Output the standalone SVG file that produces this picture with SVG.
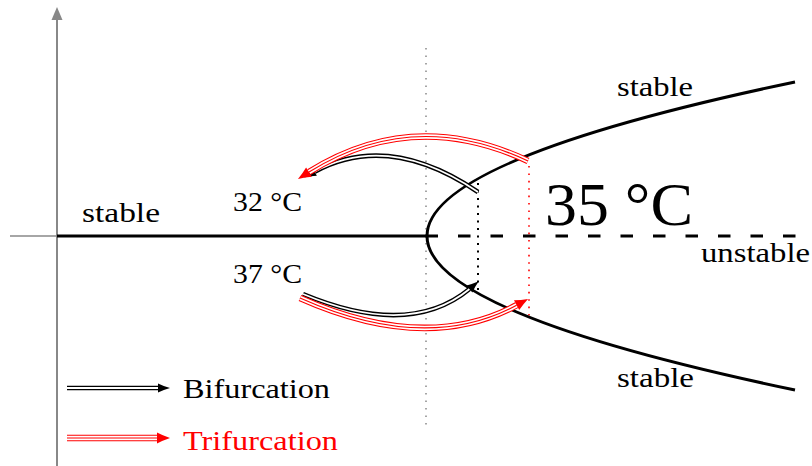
<svg xmlns="http://www.w3.org/2000/svg" width="812" height="466" viewBox="0 0 812 466">
<style>
text{font-family:"Liberation Serif","DejaVu Serif",serif;font-size:28px;fill:#000}
.red{fill:#ff0000}
.axis{stroke:#888;fill:none}
.thick{stroke:#000;stroke-width:3;fill:none}
.bo{stroke:#000;stroke-width:4.6;fill:none}
.bi{stroke:#fff;stroke-width:1.8;fill:none}
.ro{stroke:#ff0000;stroke-width:6.6;fill:none}
.ri{stroke:#fff;stroke-width:4.4;fill:none}
.rc{stroke:#ff0000;stroke-width:1.2;fill:none}
.bm{stroke:none;fill:none;marker-end:url(#ab)}
.rm{stroke:none;fill:none;marker-end:url(#ar)}
</style>
<defs>
<marker id="ab" markerUnits="userSpaceOnUse" markerWidth="20" markerHeight="20" refX="0" refY="0" viewBox="-2 -10 20 20" orient="auto" overflow="visible">
<path d="M0,-4.5 Q5,-2 12,0 Q5,2 0,4.5 z" fill="#000"/>
</marker>
<marker id="ar" markerUnits="userSpaceOnUse" markerWidth="20" markerHeight="20" refX="0" refY="0" viewBox="-2 -10 20 20" orient="auto" overflow="visible">
<path d="M0,-5.5 Q6,-2.4 13,0 Q6,2.4 0,5.5 z" fill="#ff0000"/>
</marker>
</defs>
<g id="axes">
<line class="axis" x1="57" y1="466" x2="57" y2="19" stroke-width="2"/>
<path d="M57,7 L62.5,20 L51.5,20 z" fill="#888"/>
<line class="axis" x1="10" y1="236" x2="57" y2="236" stroke-width="1.6"/>
</g>
<g id="guides">
<line x1="426" y1="48" x2="426" y2="430" stroke="#888" stroke-width="1.5" stroke-dasharray="1.5 6" stroke-linecap="butt"/>
<line x1="478" y1="183" x2="478" y2="292" stroke="#000" stroke-width="2" stroke-dasharray="2 5.5"/>
<line x1="529" y1="166" x2="529" y2="316" stroke="#ff0000" stroke-width="1.6" stroke-dasharray="1.6 5.8"/>
</g>
<g id="branches">
<line class="thick" x1="57" y1="236" x2="427" y2="236"/>
<line x1="425.5" y1="236" x2="800" y2="236" stroke="#000" stroke-width="3" stroke-dasharray="12.5 20"/>
<path class="thick" d="M795,82 Q59,236 795,390"/>
</g>
<g id="connectors">
<path class="bo" d="M478,192 Q388.5,131.5 314.7,171.7"/>
<path class="bi" d="M478,192 Q388.5,131.5 314.7,171.7"/>
<path class="bm" d="M478,192 Q388.5,131.5 314.7,171.7"/>
<path class="ro" d="M528,161 Q413,107 309,172.1"/>
<path class="ri" d="M528,161 Q413,107 309,172.1"/>
<path class="rc" d="M528,161 Q413,107 309,172.1"/>
<path class="rm" d="M528,161 Q413,107 309,172.1"/>
<path class="bo" d="M303,294 Q409.5,338.5 469.5,289"/>
<path class="bi" d="M303,294 Q409.5,338.5 469.5,289"/>
<path class="bm" d="M303,294 Q409.5,338.5 469.5,289"/>
<path class="ro" d="M300,298 Q426,354 516.6,305.2"/>
<path class="ri" d="M300,298 Q426,354 516.6,305.2"/>
<path class="rc" d="M300,298 Q426,354 516.6,305.2"/>
<path class="rm" d="M300,298 Q426,354 516.6,305.2"/>
</g>
<g id="labels">
<text x="82" y="222" textLength="78" lengthAdjust="spacingAndGlyphs">stable</text>
<text x="233" y="211" textLength="69" lengthAdjust="spacingAndGlyphs">32 °C</text>
<text x="233" y="283" textLength="69" lengthAdjust="spacingAndGlyphs">37 °C</text>
<text x="545" y="225" style="font-size:62px" textLength="148" lengthAdjust="spacingAndGlyphs">35 °C</text>
<text x="617" y="96" textLength="76" lengthAdjust="spacingAndGlyphs">stable</text>
<text x="701" y="262" textLength="109" lengthAdjust="spacingAndGlyphs">unstable</text>
<text x="617" y="387" textLength="77" lengthAdjust="spacingAndGlyphs">stable</text>
</g>
<g id="legend">
<line class="bo" x1="67" y1="388" x2="158" y2="388"/>
<line class="bi" x1="67" y1="388" x2="158" y2="388"/>
<line class="bm" x1="67" y1="388" x2="158" y2="388"/>
<text x="183" y="398" textLength="147" lengthAdjust="spacingAndGlyphs">Bifurcation</text>
<line class="ro" x1="67" y1="438" x2="157" y2="438"/>
<line class="ri" x1="67" y1="438" x2="157" y2="438"/>
<line class="rc" x1="67" y1="438" x2="157" y2="438"/>
<line class="rm" x1="67" y1="438" x2="157" y2="438"/>
<text class="red" x="183" y="450" textLength="155" lengthAdjust="spacingAndGlyphs">Trifurcation</text>
</g>
</svg>
